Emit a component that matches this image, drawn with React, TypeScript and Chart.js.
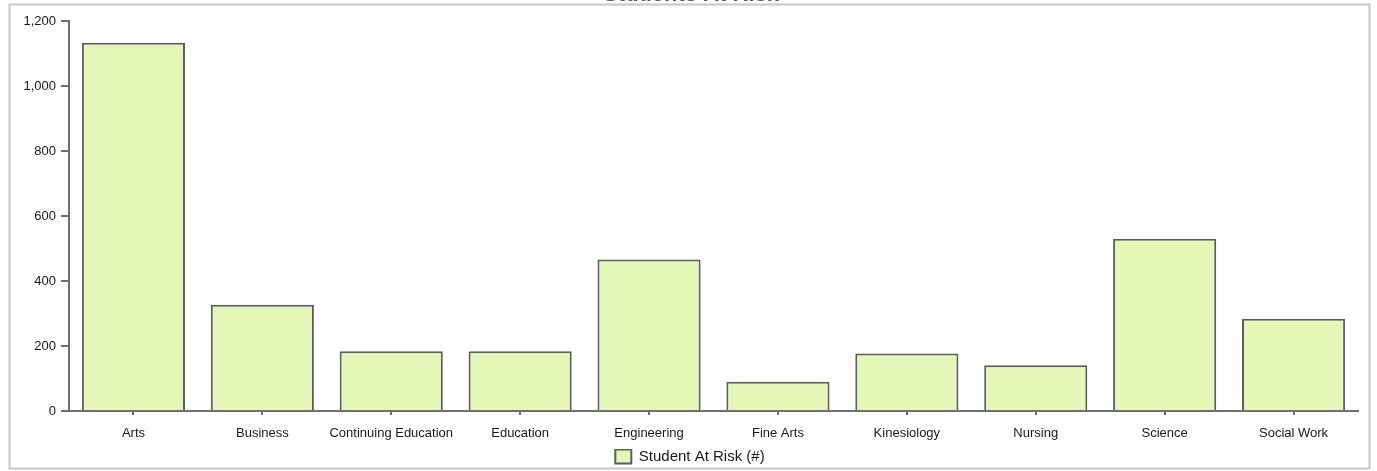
import { useEffect, useRef } from "react";
import { Chart, registerables } from "chart.js";

Chart.register(...registerables);

// Faculty categories and the at-risk student counts for each
const categories = [
  "Arts",
  "Business",
  "Continuing Education",
  "Education",
  "Engineering",
  "Fine Arts",
  "Kinesiology",
  "Nursing",
  "Science",
  "Social Work",
];
const studentsAtRisk = [1133, 327, 184, 184, 466, 90, 177, 141, 530, 284];
const yTickValues = [0, 200, 400, 600, 800, 1000, 1200];
const chartTitle = "Students At Risk";
const seriesLabel = "Student At Risk (#)";

const FONT = "'Liberation Sans', Arial, sans-serif";
const BAR_FILL = "#e4f7b8";
const BAR_EDGE = "#5e5e5e";
const AXIS = "#707070";

// Light frame around the whole chart plus the (partly clipped) title
const framePlugin = {
  id: "frameAndTitle",
  beforeDraw(chart: any) {
    const ctx = chart.ctx;
    ctx.save();
    ctx.strokeStyle = "#c8c8c8";
    ctx.lineWidth = 2;
    ctx.strokeRect(9.5, 4.5, 1360, 464);
    ctx.fillStyle = "#555";
    ctx.font = `bold 22px ${FONT}`;
    ctx.textAlign = "center";
    ctx.textBaseline = "alphabetic";
    ctx.fillText(chartTitle, 691, 1);
    ctx.restore();
  },
};

// Nudge the legend slightly right and down from its default slot
const legendNudge = {
  id: "legendNudge",
  afterLayout(chart: any) {
    const lg = chart.legend;
    if (!lg) return;
    lg.left += 11;
    lg.right += 11;
    lg.top += 3;
    lg.bottom += 3;
  },
};

export default function App() {
  const canvasRef = useRef<HTMLCanvasElement | null>(null);

  useEffect(() => {
    if (!canvasRef.current) return;
    const chart = new Chart(canvasRef.current, {
      type: "bar",
      data: {
        labels: categories,
        datasets: [
          {
            label: seriesLabel,
            data: studentsAtRisk,
            backgroundColor: BAR_FILL,
            borderColor: BAR_EDGE,
            borderWidth: 2,
            barPercentage: 0.8,
            categoryPercentage: 1.0,
          },
        ],
      },
      options: {
        animation: false,
        responsive: true,
        maintainAspectRatio: false,
        layout: { padding: { left: 0, right: 19, top: 21, bottom: 0 } },
        plugins: {
          title: { display: false },
          tooltip: { enabled: false },
          legend: {
            position: "bottom",
            labels: {
              boxWidth: 16,
              boxHeight: 14,
              padding: 0,
              color: "#1a1a1a",
              font: { family: FONT, size: 15 },
            },
          },
        },
        scales: {
          x: {
            offset: true,
            border: { display: true, color: AXIS, width: 2 },
            grid: {
              offset: false,
              drawOnChartArea: false,
              drawTicks: true,
              tickLength: 4,
              color: AXIS,
              lineWidth: 2,
            },
            ticks: {
              color: "#1a1a1a",
              padding: 11,
              maxRotation: 0,
              autoSkip: false,
              font: { family: FONT, size: 13 },
            },
            afterFit: (scale: any) => {
              scale.height = 35;
            },
          },
          y: {
            min: 0,
            max: 1200,
            border: { display: true, color: AXIS, width: 2 },
            grid: {
              drawOnChartArea: false,
              drawTicks: true,
              tickLength: 8,
              color: AXIS,
              lineWidth: 2,
            },
            ticks: {
              stepSize: 200,
              color: "#1a1a1a",
              padding: 5,
              font: { family: FONT, size: 13 },
            },
            afterBuildTicks: (scale: any) => {
              scale.ticks = yTickValues.map((v) => ({ value: v }));
            },
            afterFit: (scale: any) => {
              scale.width = 69;
            },
          },
        },
      },
      plugins: [framePlugin, legendNudge],
    });
    return () => chart.destroy();
  }, []);

  return (
    <div
      style={{
        position: "fixed",
        left: 0,
        top: 0,
        width: "1377px",
        height: "471px",
        background: "#fff",
      }}
    >
      <canvas ref={canvasRef} />
    </div>
  );
}
